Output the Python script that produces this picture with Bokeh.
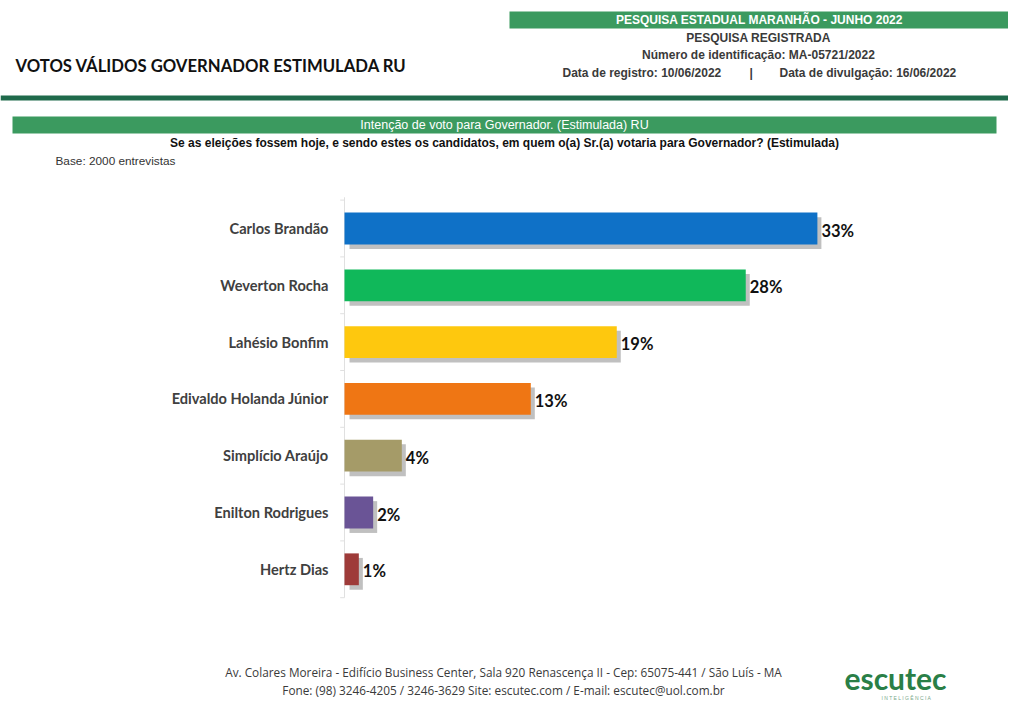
from bokeh.plotting import figure
from bokeh.models import Range1d, ColumnDataSource
from bokeh.core.properties import value
from bokeh.embed import file_html
from bokeh.resources import INLINE

# ---- data ----
candidates = ["Carlos Brandão", "Weverton Rocha", "Lahésio Bonfim", "Edivaldo Holanda Júnior",
              "Simplício Araújo", "Enilton Rodrigues", "Hertz Dias"]
votes = [33, 28, 19, 13, 4, 2, 1]
bar_colors = ["#0f71c7", "#10b85a", "#fec80e", "#ef7614", "#a59b68", "#6a5496", "#9e3b39"]
value_labels = [f"{v}%" for v in votes]

W, H = 1008, 706
PX_PER_PCT = 14.33
AXIS_X = 344          # figure px of the zero line
ROW_PX = 56.8
FIRST_ROW_Y = 228     # figure px of first bar center

p = figure(width=W, height=H, x_range=Range1d(0, W), y_range=Range1d(H, 0),
           output_backend="svg", toolbar_location=None, min_border=0,
           x_axis_location=None, y_axis_location=None)
p.grid.visible = False
p.outline_line_color = None
p.background_fill_color = "white"
p.border_fill_color = "white"

p.extra_x_ranges = {"pct": Range1d(start=-AXIS_X / PX_PER_PCT, end=(W - AXIS_X) / PX_PER_PCT)}
p.extra_y_ranges = {"cat": Range1d(start=(H - FIRST_ROW_Y) / ROW_PX, end=-FIRST_ROW_Y / ROW_PX)}

GREEN = "#3b9a5f"
DARK_GREEN = "#1f6a4b"
TXT = "#3a3a3a"
SANS = value("Liberation Sans")
CAL = value("Lato")

# ---- header ----
p.quad(left=509, right=1008, top=11, bottom=28, fill_color=GREEN, line_color=None)
p.text(x=[759], y=[19.5], text=["PESQUISA ESTADUAL MARANHÃO - JUNHO 2022"], text_align="center",
       text_baseline="middle", text_color="white", text_font=SANS, text_font_style="bold",
       text_font_size="12px")
p.text(x=[758, 758], y=[37, 54],
       text=["PESQUISA REGISTRADA", "Número de identificação: MA-05721/2022"],
       text_align="center", text_baseline="middle", text_color=TXT, text_font=SANS,
       text_font_style="bold", text_font_size="12px")
p.text(x=[562, 749, 779], y=[72, 72, 72],
       text=["Data de registro: 10/06/2022", "|", "Data de divulgação: 16/06/2022"],
       text_align="left", text_baseline="middle", text_color=TXT, text_font=SANS,
       text_font_style="bold", text_font_size="12px")

p.text(x=[15], y=[65], text=["VOTOS VÁLIDOS GOVERNADOR ESTIMULADA RU"], text_align="left",
       text_baseline="middle", text_color="#111111", text_font=CAL, text_font_style="bold",
       text_font_size="16.7px")

p.quad(left=0, right=W, top=95, bottom=100, fill_color=DARK_GREEN, line_color=None)

p.quad(left=12, right=996, top=116, bottom=133, fill_color=GREEN, line_color=None)
p.text(x=[504], y=[124.5], text=["Intenção de voto para Governador. (Estimulada) RU"],
       text_align="center", text_baseline="middle", text_color="white", text_font=SANS,
       text_font_size="12.5px")
p.text(x=[504], y=[142.5],
       text=["Se as eleições fossem hoje, e sendo estes os candidatos, em quem o(a) Sr.(a) votaria para Governador? (Estimulada)"],
       text_align="center", text_baseline="middle", text_color="#111111", text_font=SANS,
       text_font_style="bold", text_font_size="12px")
p.text(x=[55], y=[160], text=["Base: 2000 entrevistas"], text_align="left", text_baseline="middle",
       text_color="#333333", text_font=SANS, text_font_size="11.8px")

# ---- bar chart ----
idx = list(range(len(candidates)))
src = ColumnDataSource(dict(
    y=idx,
    y_sh=[i + 0.08 for i in idx],
    right=votes,
    right_sh=[v + 0.28 for v in votes],
    color=bar_colors,
    name=candidates,
    lab=value_labels,
))

# axis line and ticks
p.segment(x0=0, x1=0, y0=-0.55, y1=len(candidates) - 0.5, x_range_name="pct", y_range_name="cat",
          line_color="#e0e0e0", line_width=1)
p.segment(x0=-0.3, x1=0, y0=[i - 0.5 for i in range(len(candidates) + 1)],
          y1=[i - 0.5 for i in range(len(candidates) + 1)],
          x_range_name="pct", y_range_name="cat", line_color="#e0e0e0", line_width=1)

p.hbar(y="y_sh", left=0.35, right="right_sh", height=0.56, source=src, x_range_name="pct",
       y_range_name="cat", fill_color="#8c8c8c", fill_alpha=0.55, line_color=None)
p.hbar(y="y", left=0, right="right", height=0.56, source=src, x_range_name="pct",
       y_range_name="cat", fill_color="color", line_color=None)

p.text(x=0, y="y", text="name", source=src, x_range_name="pct", y_range_name="cat",
       x_offset=-16, text_align="right", text_baseline="middle", text_color="#404040",
       text_font=CAL, text_font_style="bold", text_font_size="14.6px")
p.text(x="right", y="y", text="lab", source=src, x_range_name="pct", y_range_name="cat",
       x_offset=4, y_offset=2, text_align="left", text_baseline="middle", text_color="#111111",
       text_font=CAL, text_font_style="bold", text_font_size="16.5px")

# ---- footer ----
p.text(x=[503, 503], y=[671, 689],
       text=["Av. Colares Moreira - Edifício Business Center, Sala 920 Renascença II - Cep: 65075-441 / São Luís - MA",
             "Fone: (98) 3246-4205 / 3246-3629 Site: escutec.com / E-mail: escutec@uol.com.br"],
       text_align="center", text_baseline="middle", text_color="#3a3a3a", text_font=value("Open Sans"),
       text_font_size="11.8px")
p.text(x=[895], y=[677], text=["escutec"], text_align="center", text_baseline="middle",
       text_color="#2a7f47", text_font=CAL, text_font_style="bold", text_font_size="30px")
p.text(x=[906], y=[697], text=["I N T E L I G Ê N C I A"], text_align="center", text_baseline="middle",
       text_color="#7aa88a", text_font=SANS, text_font_size="5px")

open("out.html", "w").write(file_html(p, INLINE))
